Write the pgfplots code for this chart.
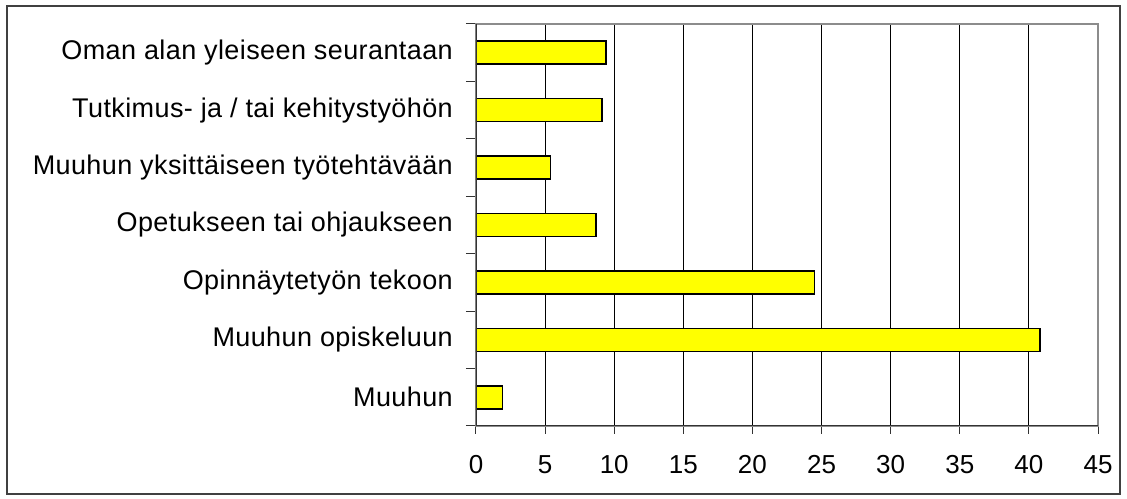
\documentclass[border=0pt]{standalone}
\usepackage{fontspec}
\setmainfont{Liberation Sans}
\newfontfamily\labelfont{Liberation Sans}[LetterSpace=1.5]
\usepackage{pgfplots}
\pgfplotsset{compat=1.18}
\definecolor{baryellow}{HTML}{FFFF00}
\begin{document}
\begin{tikzpicture}[x=1bp,y=1bp]
\path[use as bounding box] (-476,-73) rectangle (651,426);
\draw[line width=1.5bp, color=black!75] (-469,-68) rectangle (644,420);
\begin{axis}[at={(0,0)}, anchor=south west, scale only axis,
  width=622bp, height=402bp,
  xmin=0, xmax=45, ymin=-0.5, ymax=6.5,
  xtick={0,5,...,45}, ytick={0,...,6},
  yticklabels={Muuhun, Muuhun opiskeluun, Opinnäytetyön tekoon, Opetukseen tai ohjaukseen, Muuhun yksittäiseen työtehtävään, Tutkimus- ja / tai kehitystyöhön, Oman alan yleiseen seurantaan},
  minor ytick={-0.5,0.5,...,6.5},
  major y tick style={draw=none},
  tick align=outside, major tick length=8bp, minor tick length=10bp,
  xtick pos=bottom, ytick pos=left,
  tick style={black!80, line width=1bp},
  xmajorgrids, major grid style={black, line width=0.9bp},
  axis line style={draw=black!45, line width=1.5bp},
  /pgf/number format/assume math mode=true,
  ticklabel style={inner sep=0pt},
  xticklabel style={font=\fontsize{26bp}{30bp}\selectfont, anchor=north, yshift=-21bp},
  yticklabel style={font=\labelfont\fontsize{27bp}{30bp}\selectfont, anchor=east, xshift=-15bp},
  xbar, bar width=23bp, bar shift=0pt,
]
\addplot[fill=baryellow, draw=black, line width=1.5bp] coordinates {
(1.9,0) (40.8,1) (24.5,2) (8.7,3) (5.4,4) (9.1,5) (9.4,6)};
\draw[black!80, line width=1.3bp] (rel axis cs:0,1) -- (rel axis cs:0,0) -- (rel axis cs:1,0);
\end{axis}
\end{tikzpicture}
\end{document}
